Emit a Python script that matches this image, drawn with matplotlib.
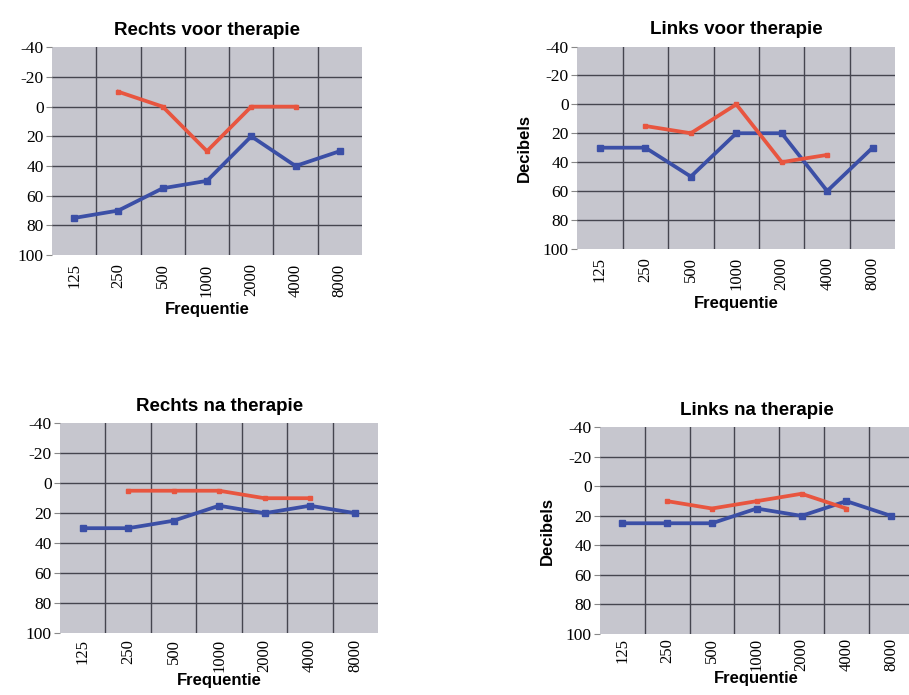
import matplotlib
matplotlib.use("Agg")
import matplotlib.pyplot as plt

freqs = ["125", "250", "500", "1000", "2000", "4000", "8000"]

titles = ["Rechts voor therapie", "Links voor therapie",
          "Rechts na therapie", "Links na therapie"]

# blue series (all frequencies)
rv_blue = [75, 70, 55, 50, 20, 40, 30]
lv_blue = [30, 30, 50, 20, 20, 60, 30]
rn_blue = [30, 30, 25, 15, 20, 15, 20]
ln_blue = [25, 25, 25, 15, 20, 10, 20]

# red series (250 .. 4000)
red_freqs = ["250", "500", "1000", "2000", "4000"]
rv_red = [-10, 0, 30, 0, 0]
lv_red = [15, 20, 0, 40, 35]
rn_red = [5, 5, 5, 10, 10]
ln_red = [10, 15, 10, 5, 15]

yticks = [-40, -20, 0, 20, 40, 60, 80, 100]

BG = "#c6c6ce"
BLUE = "#3b4fa6"
RED = "#e8553f"
GRID = "#45454f"

fig = plt.figure(figsize=(9.09, 6.95), dpi=100)

positions = [
    [0.0572, 0.633, 0.341, 0.299],
    [0.635, 0.642, 0.350, 0.291],
    [0.066, 0.089, 0.350, 0.302],
    [0.660, 0.088, 0.345, 0.297],
]
blues = [rv_blue, lv_blue, rn_blue, ln_blue]
reds = [rv_red, lv_red, rn_red, ln_red]
ylabels = [False, True, False, True]
xpads = [6, 6, 4, 3]
lpads = [4, 4, 1, 0]

serif = "Liberation Serif"
sans = "Liberation Sans"

for pos, title, b, r, yl, xp, lp in zip(positions, titles, blues, reds, ylabels, xpads, lpads):
    ax = fig.add_axes(pos)
    ax.set_facecolor(BG)
    xb = list(range(len(freqs)))
    xr = [freqs.index(f) for f in red_freqs]
    ax.plot(xb, b, color=BLUE, lw=2.7, marker="s", ms=4, zorder=3)
    ax.plot(xr, r, color=RED, lw=2.7, marker="s", ms=3, zorder=3)
    ax.set_xlim(-0.5, len(freqs) - 0.5)
    ax.set_ylim(100, -40)
    ax.set_yticks(yticks)
    ax.set_yticklabels([str(v) for v in yticks], fontfamily=serif, fontsize=12.5)
    ax.set_xticks(xb)
    ax.set_xticklabels(freqs, rotation=90, fontfamily=serif, fontsize=12)
    for bnd in [i + 0.5 for i in range(len(freqs) - 1)]:
        ax.axvline(bnd, color=GRID, lw=1.0, zorder=1)
    for v in yticks[1:-1]:
        ax.axhline(v, color=GRID, lw=1.0, zorder=1)
    for s in ax.spines.values():
        s.set_visible(False)
    ax.tick_params(axis="x", length=0, pad=xp)
    ax.tick_params(axis="y", length=4, width=0.8, color="#888888", pad=2)
    ax.set_title(title, fontfamily=sans, fontweight="bold", fontsize=13.5, pad=9)
    ax.set_xlabel("Frequentie", fontfamily=sans, fontweight="bold", fontsize=12, labelpad=lp)
    if yl:
        ax.set_ylabel("Decibels", fontfamily=sans, fontweight="bold", fontsize=12, labelpad=8)

fig.savefig("out.png", dpi=100, facecolor="white")
